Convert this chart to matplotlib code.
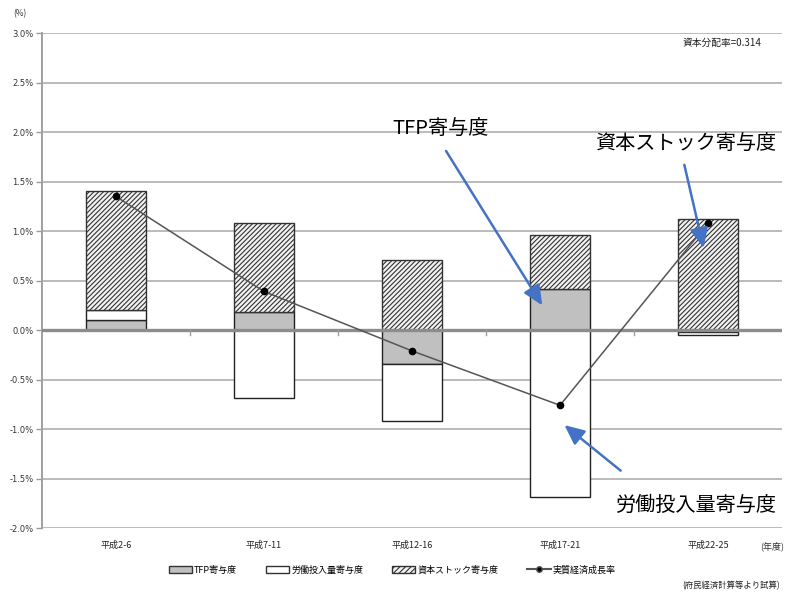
import matplotlib
matplotlib.use("Agg")
import matplotlib.pyplot as plt
from matplotlib.patches import Patch
from matplotlib.lines import Line2D
import numpy as np

plt.rcParams['font.family'] = ['Noto Sans CJK JP', 'DejaVu Sans']
plt.rcParams['hatch.linewidth'] = 0.8

periods = ['平成2-6', '平成7-11', '平成12-16', '平成17-21', '平成22-25']
tfp = [0.10, 0.18, -0.34, 0.42, -0.02]
labor = [0.10, -0.69, -0.58, -1.69, -0.03]
capital = [1.21, 0.90, 0.71, 0.54, 1.12]
growth = [1.35, 0.39, -0.21, -0.76, 1.08]
yticks = [-2.0, -1.5, -1.0, -0.5, 0.0, 0.5, 1.0, 1.5, 2.0, 2.5, 3.0]

fig = plt.figure(figsize=(8.0, 5.92), dpi=100)
ax = fig.add_axes([0.0525, 0.108, 0.925, 0.836])

x = np.arange(len(periods))
w = 0.4

# stack positives upward from zero and negatives downward
pos_base = np.zeros(len(x))
neg_base = np.zeros(len(x))

def stacked(vals, **kw):
    vals = np.asarray(vals, dtype=float)
    bottoms = np.where(vals >= 0, pos_base, neg_base)
    bars = ax.bar(x, vals, w, bottom=bottoms, zorder=3, **kw)
    pos_base[:] = pos_base + np.where(vals >= 0, vals, 0)
    neg_base[:] = neg_base + np.where(vals < 0, vals, 0)
    return bars

stacked(tfp, color='#c0c0c0', edgecolor='#222222', linewidth=1.0)
stacked(labor, color='white', edgecolor='#222222', linewidth=1.0)
stacked(capital, color='#f2f2f2', edgecolor='#333333', linewidth=1.0,
        hatch='///////')

ax.plot(x, growth, color='#555555', linewidth=1.1, marker='o',
        markersize=4.5, markerfacecolor='black', markeredgecolor='black',
        zorder=5)

ax.set_xlim(-0.5, len(x) - 0.5)
ax.set_ylim(-2.0, 3.0)
ax.set_yticks(yticks)
ax.set_yticklabels([f'{v:.1f}%' for v in yticks], fontsize=6,
                   color='#333333', family=['DejaVu Sans'])
ax.tick_params(axis='y', length=4, color='#999999', width=1.0, pad=2)
ax.grid(axis='y', color='#bbbbbb', linewidth=1.4, zorder=0)
ax.set_axisbelow(True)
ax.axhline(0, color='#8c8c8c', linewidth=2.4, zorder=4)

for side in ['top', 'right', 'bottom']:
    ax.spines[side].set_visible(False)
ax.spines['left'].set_color('#a0a0a0')
ax.spines['left'].set_linewidth(1.4)

ax.set_xticks(x)
ax.set_xticklabels(periods, fontsize=6.5, color='#222222')
ax.tick_params(axis='x', length=0, pad=9)

# small category separators on the zero line
for b in np.arange(0.5, len(x) - 0.5, 1.0):
    ax.plot([b, b], [0, -0.05], color='#a0a0a0', linewidth=1.0, zorder=4)

fig.text(0.016, 0.972, '(%)', fontsize=6, color='#333333')
fig.text(0.952, 0.922, '資本分配率=0.314', fontsize=7, ha='right',
         color='#222222')
fig.text(0.98, 0.073, '(年度)', fontsize=6.5, ha='right', color='#333333')
fig.text(0.975, 0.006, '(府民経済計算等より試算)', fontsize=6, ha='right',
         color='#222222')

blue = '#4472c4'
arrow = dict(arrowstyle='-|>,head_length=1.2,head_width=0.55', color=blue,
             lw=1.8, shrinkA=0, shrinkB=0)

ax.text(2.19, 2.04, 'TFP寄与度', fontsize=14.5, ha='center', va='center',
        zorder=6)
ax.annotate('', xy=(2.88, 0.25), xytext=(2.23, 1.81), arrowprops=arrow,
            zorder=6)

ax.text(3.85, 1.89, '資本ストック寄与度', fontsize=14.5, ha='center',
        va='center', zorder=6)
ax.annotate('', xy=(3.97, 0.83), xytext=(3.84, 1.67), arrowprops=arrow,
            zorder=6)

ax.text(3.92, -1.77, '労働投入量寄与度', fontsize=14.5, ha='center',
        va='center', zorder=6)
ax.annotate('', xy=(3.03, -0.96), xytext=(3.41, -1.42), arrowprops=arrow,
            zorder=6)

handles = [
    Patch(facecolor='#c0c0c0', edgecolor='#333333', label='TFP寄与度'),
    Patch(facecolor='white', edgecolor='#333333', label='労働投入量寄与度'),
    Patch(facecolor='#f2f2f2', edgecolor='#333333', hatch='//////',
          label='資本ストック寄与度'),
    Line2D([0], [0], color='#555555', marker='o', markersize=4,
           markerfacecolor='black', label='実質経済成長率'),
]
fig.legend(handles=handles, loc='center', bbox_to_anchor=(0.49, 0.037),
           ncol=4, frameon=False, fontsize=6.5, handlelength=2.6,
           handleheight=0.8, columnspacing=3.2, handletextpad=0.2)

fig.savefig('out.png', dpi=100)
